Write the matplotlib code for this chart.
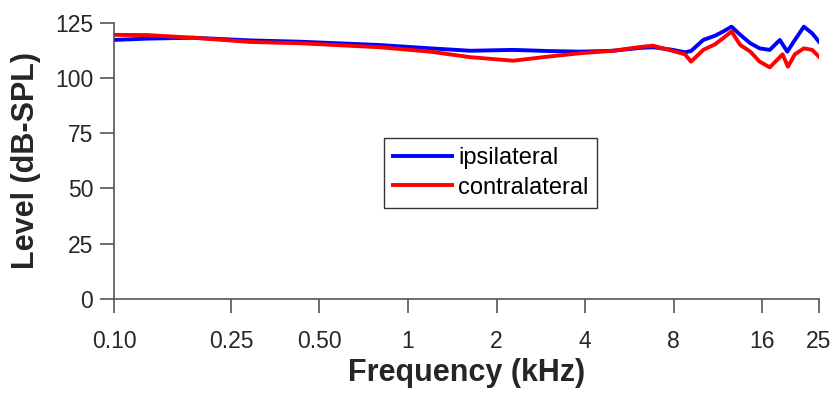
import matplotlib
matplotlib.use("Agg")
import matplotlib.pyplot as plt
import numpy as np

plt.rcParams['font.family'] = ['Liberation Sans', 'DejaVu Sans']

# Data (frequency in kHz, level in dB-SPL)
freq_ipsi = [0.10, 0.13, 0.186, 0.29, 0.43, 0.80, 1.19, 1.63, 2.28, 2.97, 3.85, 4.98, 6.15,
             6.81, 7.97, 8.75, 9.18, 10.1, 11.07, 11.8, 12.6, 13.5, 14.6, 15.7, 17.0,
             18.4, 19.5, 20.7, 22.2, 23.7, 25.0]
level_ipsi = [117.2, 117.8, 118.2, 117.0, 116.4, 114.9, 113.4, 112.3, 112.7, 112.2, 111.9, 112.3, 113.6,
              113.9, 112.7, 111.6, 112.2, 117.2, 119.1, 121.0, 123.2, 119.5, 115.7, 113.4, 112.7,
              117.2, 111.9, 117.2, 123.2, 120.2, 116.4]

freq_contra = [0.10, 0.13, 0.186, 0.29, 0.43, 0.80, 1.19, 1.63, 2.28, 2.97, 3.85, 4.98, 6.15,
               6.81, 7.97, 8.75, 9.18, 10.1, 11.07, 11.8, 12.6, 13.5, 14.6, 15.7, 17.0,
               18.8, 19.6, 20.7, 22.2, 23.7, 25.0]
level_contra = [119.5, 119.4, 118.2, 116.3, 115.7, 113.9, 111.9, 109.4, 107.8, 109.6, 111.2, 112.3, 114.0,
                114.6, 112.2, 110.7, 107.4, 112.7, 115.2, 118.0, 121.0, 114.9, 111.9, 107.4, 104.8,
                110.7, 105.1, 110.7, 113.4, 112.7, 109.6]

xticks = [0.10, 0.25, 0.50, 1, 2, 4, 8, 16, 25]
xticklabels = ['0.10', '0.25', '0.50', '1', '2', '4', '8', '16', '25']
yticks = [0, 25, 50, 75, 100, 125]

fig = plt.figure(figsize=(8.36, 3.94), dpi=100)
ax = fig.add_axes([114/836, 1-299/394, (819-114)/836, (299-22.7)/394])

ax.plot(freq_ipsi, level_ipsi, color='#0000ff', lw=2.8, label='ipsilateral',
        solid_joinstyle='round')
ax.plot(freq_contra, level_contra, color='#ff0000', lw=2.8, label='contralateral',
        solid_joinstyle='round')

ax.set_xscale('log')
ax.set_xlim(0.1, 25)
ax.set_ylim(0, 125)
ax.set_xticks(xticks)
ax.set_xticklabels(xticklabels)
ax.xaxis.set_minor_locator(matplotlib.ticker.NullLocator())
ax.set_yticks(yticks)

for s in ['top', 'right']:
    ax.spines[s].set_visible(False)
for s in ['left', 'bottom']:
    ax.spines[s].set_color('#555555')
    ax.spines[s].set_linewidth(1.2)

ax.tick_params(axis='both', direction='out', length=10, width=1.2, color='#555555',
               labelsize=16.5, labelcolor='#262626')
ax.tick_params(axis='x', pad=12)
ax.tick_params(axis='y', pad=5)

ax.set_xlabel('Frequency (kHz)', fontsize=22, fontweight='bold', color='#262626', labelpad=4)
ax.set_ylabel('Level (dB-SPL)', fontsize=22, fontweight='bold', color='#262626', labelpad=10)

leg = fig.legend(loc='upper left', bbox_to_anchor=(384/836, 1-138/394), fontsize=17,
                 frameon=True, fancybox=False, edgecolor='#333333', framealpha=1,
                 handlelength=2.5, handletextpad=0.25, labelspacing=0.32, borderpad=0.38,
                 borderaxespad=0)
leg.get_frame().set_linewidth(1.0)

fig.savefig('out.png', dpi=100)
